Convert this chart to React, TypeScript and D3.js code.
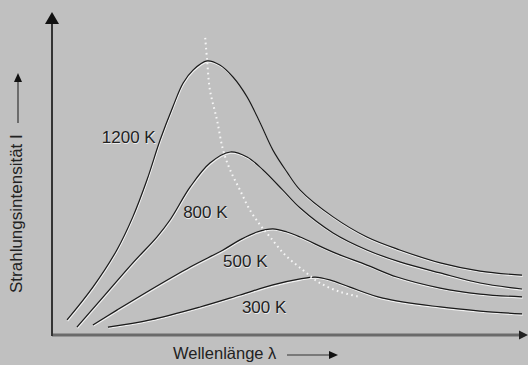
import React from "react";
import * as d3 from "d3";

// Wellenlänge (a.u.) / Strahlungsintensität (a.u.)
const k1200: [number, number][] = [
  [0.32, 0.48], [0.87, 1.52], [1.38, 2.7], [1.72, 3.75], [2.02, 4.92], [2.3, 6.19],
  [2.57, 7.24], [2.79, 8.0], [3.0, 8.41], [3.3, 8.7], [3.57, 8.57], [3.85, 8.19],
  [4.15, 7.56], [4.43, 6.73], [4.7, 5.87], [5.0, 5.17], [5.28, 4.6], [5.98, 3.75],
  [6.7, 3.11], [7.4, 2.7], [8.26, 2.29], [9.11, 2.03], [10.0, 1.9],
];
const k800: [number, number][] = [
  [0.53, 0.25], [1.09, 1.21], [1.72, 2.29], [2.23, 3.11], [2.51, 3.65], [2.94, 4.7],
  [3.36, 5.46], [3.79, 5.81], [4.15, 5.65], [4.49, 5.24], [4.91, 4.6], [5.28, 4.03],
  [5.98, 3.24], [6.7, 2.7], [7.4, 2.32], [8.26, 1.97], [9.11, 1.65], [10.0, 1.46],
];
const k500: [number, number][] = [
  [0.87, 0.32], [1.38, 0.79], [2.09, 1.43], [2.94, 2.16], [3.64, 2.7], [4.0, 3.02],
  [4.36, 3.27], [4.7, 3.37], [5.0, 3.27], [5.28, 3.11], [5.98, 2.63], [6.7, 2.22],
  [7.34, 1.84], [8.26, 1.49], [9.11, 1.3], [10.0, 1.21],
];
const k300: [number, number][] = [
  [1.19, 0.25], [2.09, 0.48], [3.15, 0.89], [4.0, 1.27], [4.7, 1.59], [5.28, 1.78],
  [5.6, 1.84], [5.91, 1.75], [6.34, 1.52], [7.04, 1.17], [8.26, 0.89], [9.11, 0.76],
  [10.0, 0.67],
];
// Wiensches Verschiebungsgesetz (punktiert)
const wien: [number, number][] = [
  [3.26, 9.43], [3.3, 8.73], [3.36, 7.78], [3.51, 6.83], [3.64, 5.87], [3.79, 5.24],
  [4.0, 4.6], [4.21, 3.97], [4.43, 3.49], [4.64, 3.11], [4.96, 2.54], [5.34, 2.06],
  [5.7, 1.65], [6.13, 1.37], [6.55, 1.21],
];

const curves = [k1200, k800, k500, k300];
const labels = ["1200 K", "800 K", "500 K", "300 K"];
// label anchor (left, baseline) in data units
const labelPos: [number, number][] = [[1.06, 6.1], [2.79, 3.71], [3.64, 2.16], [4.04, 0.7]];

const width = 528;
const height = 365;
const x0 = 52, x1 = 522, yBase = 335, yTop = 20;

export default function App() {
  const x = d3.scaleLinear().domain([0, 10]).range([x0, x1]);
  const y = d3.scaleLinear().domain([0, 10]).range([yBase, yTop]);
  const line = d3.line<[number, number]>()
    .x(d => x(d[0]))
    .y(d => y(d[1]))
    .curve(d3.curveCatmullRom.alpha(0.5));

  const font = "'Liberation Sans', Arial, sans-serif";

  return (
    <svg width={width} height={height} style={{ position: "absolute", left: 0, top: 0 }}>
      <rect width={width} height={height} fill="#c0c0c0" />

      {/* curves with the light halo seen in the scan */}
      {curves.map((c, i) => (
        <g key={i}>
          <path d={line(c) || ""} fill="none" stroke="#f2f2f2" strokeWidth={1.1} transform="translate(0.6,1.2)" />
          <path d={line(c) || ""} fill="none" stroke="#1a1a1a" strokeWidth={1.2} />
        </g>
      ))}

      <path d={line(wien) || ""} fill="none" stroke="#f6f6f6" strokeWidth={2} strokeDasharray="1.6,3.4" />

      {labels.map((t, i) => (
        <g key={t} fontFamily={font} fontSize={17}>
          <text x={x(labelPos[i][0]) + 0.6} y={y(labelPos[i][1]) + 0.8} fill="#eeeeee">{t}</text>
          <text x={x(labelPos[i][0])} y={y(labelPos[i][1])} fill="#222">{t}</text>
        </g>
      ))}

      {/* axes */}
      <line x1={x0} x2={x1} y1={yBase} y2={yBase} stroke="#6a6a6a" strokeWidth={3} />
      <path d={`M${x1 + 6},${yBase} L${x1 - 3},${yBase - 4.5} L${x1 - 3},${yBase + 4.5} Z`} fill="#222" />
      <line x1={x0} x2={x0} y1={yBase + 1} y2={22} stroke="#333" strokeWidth={2} />
      <path d={`M${x0},12 L${x0 - 7},24 L${x0 + 7},24 Z`} fill="#111" />

      {/* axis titles */}
      <text x={173} y={359} fontFamily={font} fontSize={16.5} fill="#222">Wellenlänge λ</text>
      <line x1={287} x2={331} y1={355} y2={355} stroke="#333" strokeWidth={1.2} />
      <path d="M338,355 L329,351 L329,359 Z" fill="#111" />

      <text transform="translate(22,293) rotate(-90)" fontFamily={font} fontSize={17} fill="#222">
        Strahlungsintensität I
      </text>
      <line x1={18} x2={18} y1={123} y2={80} stroke="#333" strokeWidth={1.2} />
      <path d="M18,73 L14,82 L22,82 Z" fill="#111" />
    </svg>
  );
}
